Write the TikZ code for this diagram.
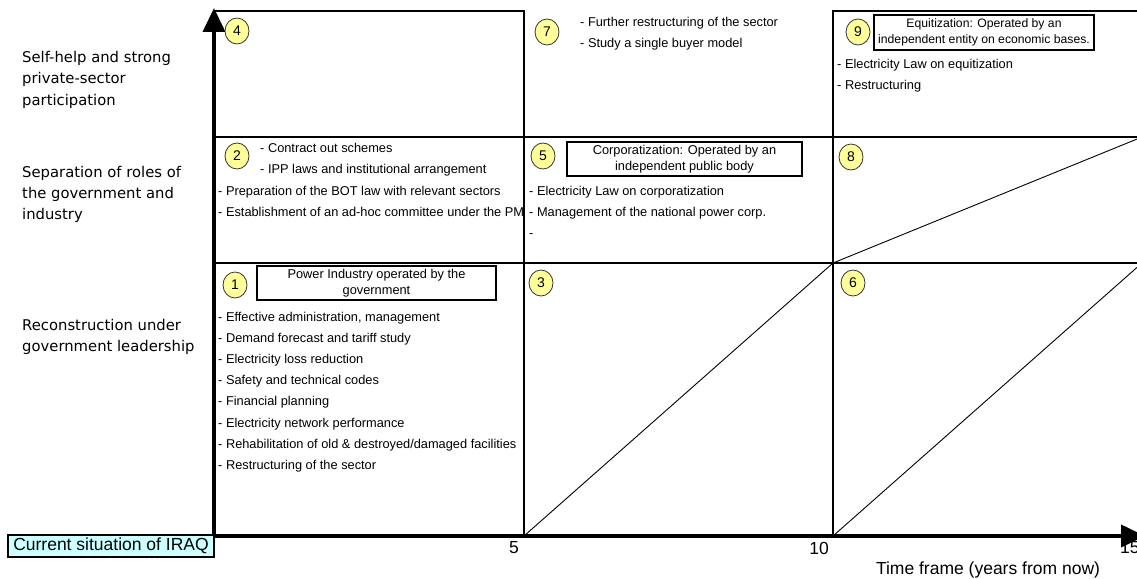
\documentclass[tikz,border=0pt]{standalone}
\usepackage{fontspec}
\setmainfont{Liberation Sans}
\newfontfamily\gothic{DejaVu Sans}
\usetikzlibrary{arrows.meta,shapes.geometric}
\definecolor{numfill}{HTML}{FFFF99}
\definecolor{curfill}{HTML}{CCFFFF}
\begin{document}
\begin{tikzpicture}[x=1pt,y=-1pt,
  gridline/.style={line width=2pt, line join=miter},
  axisline/.style={line width=4pt, -{Triangle[width=22pt,length=24pt]}},
  diag/.style={line width=0.9pt},
  item/.style={anchor=base west, inner sep=0pt, font=\fontsize{12.8}{15}\selectfont},
  lab/.style={anchor=base west, inner sep=0pt, font=\gothic\fontsize{14.8}{18}\selectfont},
  num/.style={ellipse, draw=black!80, line width=0.8pt, fill=numfill, minimum width=24pt, minimum height=26pt, inner sep=0pt, font=\fontsize{14}{16}\selectfont},
  titlebox/.style={draw, line width=1.2pt, fill=white, align=center, inner sep=0pt, font=\fontsize{12.8}{16}\selectfont},
  tick/.style={inner sep=0pt, font=\fontsize{17.5}{20}\selectfont}]
\useasboundingbox (0,0) rectangle (1137,578);

% grid
\draw[gridline] (214,11) -- (524,11) -- (524,536);
\draw[gridline] (833,536) -- (833,11) -- (1142,11);
\draw[gridline] (214,137) -- (1142,137);
\draw[gridline] (214,263) -- (1142,263);

% diagonals
\draw[diag] (524,536) -- (833,263);
\draw[diag] (833,536) -- (1142,263);
\draw[diag] (833,263) -- (1142,137);

% axes
\coordinate (origin) at (214,536);
\coordinate (ytip) at (214,8);
\coordinate (xtip) at (1145,536);
\draw[axisline] (214,538) -- (ytip);
\draw[axisline] (212,536) -- (xtip);

% current situation
\node[draw, line width=1.5pt, fill=curfill, minimum width=206pt, minimum height=22pt, inner sep=0pt, font=\fontsize{17.5}{20}\selectfont] (cur) at (111,546) {Current situation of IRAQ};

% ticks
\node[tick] (t5) at (514,548) {5};
\node[tick] (t10) at (819,548) {10};
\node[tick, anchor=west] (t15) at (1120,548) {15};
\node[tick] (tf) at (988,570) {Time frame (years from now)};

% left labels
\node[lab] (l1a) at (22,63) {Self-help and strong};
\node[lab] (l1b) at (22,84) {private-sector};
\node[lab] (l1c) at (22,105) {participation};
\node[lab] (l2a) at (22,177) {Separation of roles of};
\node[lab] (l2b) at (22,198) {the government and};
\node[lab] (l2c) at (22,219) {industry};
\node[lab] (l3a) at (22,330) {Reconstruction under};
\node[lab] (l3b) at (22,351) {government leadership};

% numbers
\node[num] (n4) at (237,31) {4};
\node[num] (n7) at (547,32) {7};
\node[num] (n9) at (858,32) {9};
\node[num] (n2) at (237,156) {2};
\node[num] (n5) at (543,156) {5};
\node[num] (n8) at (851,157) {8};
\node[num] (n1) at (235,285) {1};
\node[num] (n3) at (541,283) {3};
\node[num] (n6) at (853,283) {6};

% title boxes
\node[titlebox, minimum width=239pt, minimum height=34pt] (b1) at (376.5,283) {Power Industry operated by the\\government};
\node[titlebox, minimum width=235pt, minimum height=34pt] (b5) at (684.5,159) {Corporatization: Operated by an\\independent public body};
\node[titlebox, minimum width=220pt, minimum height=35pt, font=\fontsize{12.2}{16}\selectfont] (b9) at (984,32.5) {Equitization: Operated by an\\independent entity on economic bases.};

% box 7
\node[item] (i7a) at (580,26.5) {- Further restructuring of the sector};
\node[item] (i7b) at (580,47.5) {- Study a single buyer model};
% box 9
\node[item] (i9a) at (837,68.5) {- Electricity Law on equitization};
\node[item] (i9b) at (837,89.5) {- Restructuring};
% box 2
\node[item] (i2a) at (260,152.5) {- Contract out schemes};
\node[item] (i2b) at (260,173.5) {- IPP laws and institutional arrangement};
\node[item] (i2c) at (218,195) {- Preparation of the BOT law with relevant sectors};
\node[item] (i2d) at (218,216) {- Establishment of an ad-hoc committee under the PM};
% box 5
\node[item] (i5a) at (529,195.5) {- Electricity Law on corporatization};
\node[item] (i5b) at (529,216.5) {- Management of the national power corp.};
\node[item] (i5c) at (529,237.5) {-};
% box 1
\node[item] (i1a) at (218,321) {- Effective administration, management};
\node[item] (i1b) at (218,342.2) {- Demand forecast and tariff study};
\node[item] (i1c) at (218,363.4) {- Electricity loss reduction};
\node[item] (i1d) at (218,384.6) {- Safety and technical codes};
\node[item] (i1e) at (218,405.8) {- Financial planning};
\node[item] (i1f) at (218,427.0) {- Electricity network performance};
\node[item] (i1g) at (218,448.2) {- Rehabilitation of old \& destroyed/damaged facilities};
\node[item] (i1h) at (218,469.4) {- Restructuring of the sector};
\end{tikzpicture}
\end{document}
